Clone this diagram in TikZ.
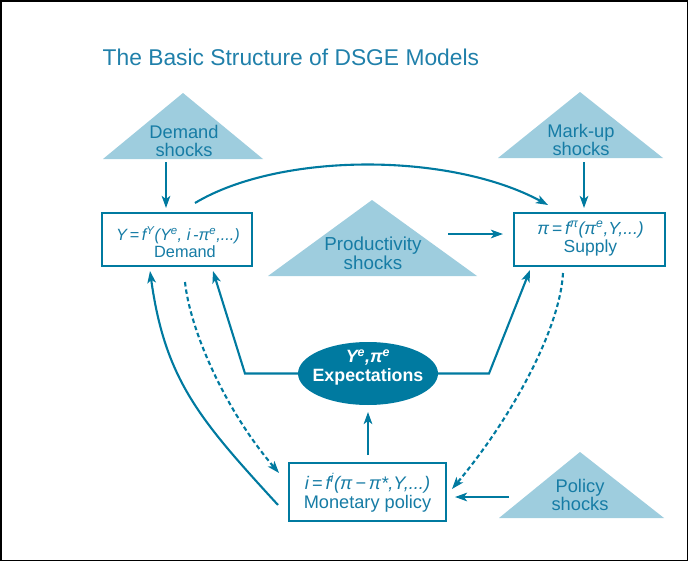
\documentclass[tikz,border=0pt]{standalone}
\usepackage{fontspec}
\setmainfont{Liberation Sans}
\usetikzlibrary{arrows.meta,shapes.geometric}
\definecolor{dsgeline}{RGB}{0,122,160}
\definecolor{dsgetri}{RGB}{158,205,222}
\definecolor{dsgetxt}{RGB}{22,124,165}
\definecolor{dsgetitle}{RGB}{32,128,170}
\begin{document}
\begin{tikzpicture}[x=1pt,y=-1pt,
  conn/.style={draw=dsgeline, line width=2.1pt, -{Stealth[length=12pt,width=8.5pt,inset=3pt]}},
  dconn/.style={conn, dash pattern=on 4.5pt off 3pt},
  boxframe/.style={draw=dsgeline, line width=1.5pt, fill=white, inner sep=0pt},
  boxtext/.style={text=dsgetxt, align=center, inner sep=0pt, font=\fontsize{16.3}{17}\selectfont},
  trifill/.style={fill=dsgetri},
  trilabel/.style={text=dsgetxt, align=center, inner sep=0pt, font=\fontsize{18.3}{18}\selectfont},
]
\useasboundingbox (0,0) rectangle (689,562);
\draw[black, line width=1.5pt] (1,1) rectangle (687.5,560.5);

% title
\node[anchor=base west, inner sep=0pt, text=dsgetitle, font=\fontsize{22.8}{27}\selectfont] (title) at (102.5,65) {The Basic Structure of DSGE Models};

% shock triangles
\fill[trifill] (103,159) -- (183,93) -- (263,159) -- cycle;
\node[trilabel] (dshk) at (184,140.5) {Demand\\shocks};
\fill[trifill] (498,158) -- (580,92) -- (663,158) -- cycle;
\node[trilabel] (mshk) at (581,139.5) {Mark-up\\shocks};
\fill[trifill] (268,276) -- (372,200) -- (477,276) -- cycle;
\node[trilabel, font=\fontsize{18.8}{19.5}\selectfont] (pshk) at (373,253.5) {Productivity\\shocks};
\fill[trifill] (499,518) -- (580,452) -- (664,518) -- cycle;
\node[trilabel] (polshk) at (580,494.5) {Policy\\shocks};

% boxes
\node[boxframe, minimum width=150pt, minimum height=53pt] (dem) at (177,239.5) {};
\node[boxtext] (demtxt) at (178,242) {\itshape Y\,=\,f\textsuperscript{Y}(Y\textsuperscript{e}, i\,-π\textsuperscript{e},...)\\\upshape\hspace*{14pt}Demand};
\node[boxframe, minimum width=151pt, minimum height=53pt] (sup) at (589.5,239.5) {};
\node[boxtext, font=\fontsize{17.5}{18}\selectfont] (suptxt) at (590.5,238.5) {\itshape π\,=\,f\textsuperscript{π}(π\textsuperscript{e},Y,...)\\\upshape Supply};
\node[boxframe, minimum width=157pt, minimum height=58pt] (mon) at (367.5,492) {};
\node[boxtext, font=\fontsize{18.2}{19.5}\selectfont] (montxt) at (367.5,493) {\itshape i\,=\,f\textsuperscript{i}(π\,−\,π*,Y,...)\\\upshape Monetary policy};

% expectations
\node[ellipse, fill=dsgeline, minimum width=140pt, minimum height=63pt, inner sep=0pt] (exp) at (368,373.5) {};
\node[text=white, align=center, inner sep=0pt, font=\bfseries\fontsize{17.8}{19}\selectfont] (exptxt) at (368,367.5) {\itshape Y\textsuperscript{e},π\textsuperscript{e}\\\upshape Expectations};

% connector end points
\coordinate (dsS) at (166,162);
\coordinate (dsE) at (166,208);
\coordinate (msS) at (584,162);
\coordinate (msE) at (584,208);
\coordinate (topS) at (195,203);
\coordinate (topE) at (548,205);
\coordinate (prS) at (448,234);
\coordinate (prE) at (503,234);
\coordinate (elbowL) at (245,373.5);
\coordinate (demIn) at (213,271);
\coordinate (elbowR) at (489,373.5);
\coordinate (supIn) at (530,270);
\coordinate (monUp) at (368,455);
\coordinate (expIn) at (368,412);
\coordinate (polS) at (509,497);
\coordinate (polE) at (455,497);
\coordinate (monOutL) at (278,505);
\coordinate (demInL) at (150,271);
\coordinate (demOut) at (185,282);
\coordinate (monInL) at (279,473);
\coordinate (supOut) at (563,273);
\coordinate (monInR) at (452,489);

% connectors
\draw[conn] (dsS) -- (dsE);
\draw[conn] (msS) -- (msE);
\draw[conn] (topS) .. controls (280,152) and (450,152) .. (topE);
\draw[conn] (prS) -- (prE);
\draw[conn] (exp.west) -- (elbowL) -- (demIn);
\draw[conn] (exp.east) -- (elbowR) -- (supIn);
\draw[conn] (monUp) -- (expIn);
\draw[conn] (polS) -- (polE);
\draw[conn] (monOutL) .. controls (200,420) and (165,380) .. (demInL);
\draw[dconn] (demOut) .. controls (190,330) and (225,410) .. (monInL);
\draw[dconn] (supOut) .. controls (560,330) and (510,420) .. (monInR);
\end{tikzpicture}
\end{document}
